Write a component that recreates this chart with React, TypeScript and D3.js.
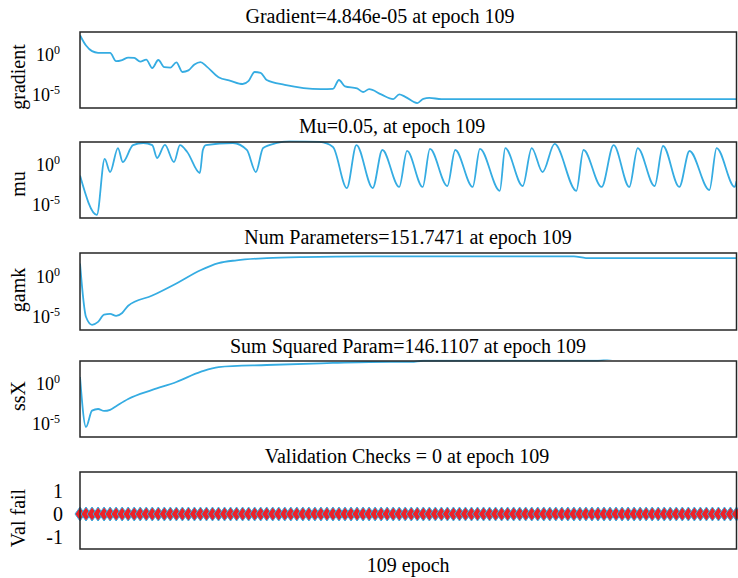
import React from 'react';
import * as d3 from 'd3';

// values (epoch, value)
const gradient: [number, number][] = [
  [0, 316], [1, 16], [2, 3.2], [3, 2], [5, 1.9], [6, 0.18], [7, 0.25], [8, 0.5], [9, 0.45],
  [10, 0.16], [11, 0.28], [12, 0.025], [13, 0.25], [14, 0.032], [15, 0.028], [16, 0.126],
  [17, 0.008], [18, 0.0126], [19, 0.07], [20, 0.14], [21, 0.04], [23, 0.0018], [25, 6.3e-4],
  [27, 2.5e-4], [28, 6.3e-4], [29, 8e-3], [30, 6.3e-3], [31, 8e-4], [34, 2e-4], [40, 5.9e-5],
  [42, 6.3e-5], [43, 8e-4], [44, 1.26e-4], [46, 7e-5], [47, 2.5e-5], [48, 5.6e-5], [50, 1.26e-5],
  [52, 3.3e-6], [53, 1.26e-5], [54, 6.3e-6], [56, 1.05e-6], [57, 3.5e-6], [58, 4.5e-6],
  [60, 3.3e-6], [109, 3.3e-6],
];

const mu: [number, number][] = [
  [0, 0.05], [2.8, 6.3e-7], [4.1, 6.3], [5, 0.14], [6.3, 140], [7.1, 2.5], [8.8, 320],
  [10.5, 600], [12, 320], [12.8, 8], [14.1, 350], [15.6, 2.5], [16.6, 320], [17.8, 45],
  [19.9, 0.105], [20.4, 80], [20.9, 320], [25.4, 600], [27.7, 80], [29.2, 0.14], [30.4, 140],
  [32.7, 600], [34.8, 1000], [39.8, 800], [42, 190], [44.3, 1.4e-3], [45.9, 320], [48.6, 1.4e-3],
  [50.2, 80], [53, 1.9e-3], [54.3, 63], [56.9, 1.9e-3], [58.1, 110], [61, 2.5e-3], [62.3, 80],
  [65.2, 1.9e-3], [66.4, 110], [69.7, 6.3e-4], [70.6, 140], [73.5, 2.5e-3], [75, 140],
  [76.8, 0.14], [78.8, 450], [82.4, 6.3e-4], [83.6, 80], [86.6, 1.9e-3], [88.6, 320],
  [91.2, 1.9e-3], [92.6, 140], [95.4, 2.5e-3], [96.8, 250], [99.5, 1.9e-3], [101.2, 60],
  [104.5, 8e-4], [105.7, 140], [108.7, 1.9e-3], [109, 0.01],
];

const gamk: [number, number][] = [
  [0, 40], [1, 1e-5], [2, 1.1e-6], [3, 2.5e-6], [4, 2e-5], [5, 2.5e-5], [6, 1.4e-5], [7, 3.2e-5],
  [8, 2.5e-4], [12, 4.5e-3], [16, 0.14], [20, 6], [23, 45], [26, 100], [31, 185], [37, 250],
  [48, 300], [82, 300], [84, 190], [109, 185],
];

const ssX: [number, number][] = [
  [0, 8], [1, 4.5e-6], [2, 5e-4], [3, 8e-4], [4, 4.5e-4], [5, 6.3e-4], [6, 1.8e-3], [8, 0.014],
  [12, 0.19], [16, 1.9], [20, 34], [23, 140], [31, 250], [42, 450], [48, 600], [55, 620],
  [57, 850], [86, 900], [89, 2000], [109, 2000],
];

const valFail = [
  0, 0, 0, 0, 0, 0, 0, 0, 0, 0, 0, 0, 0, 0, 0, 0, 0, 0, 0, 0, 0, 0,
  0, 0, 0, 0, 0, 0, 0, 0, 0, 0, 0, 0, 0, 0, 0, 0, 0, 0, 0, 0, 0, 0,
  0, 0, 0, 0, 0, 0, 0, 0, 0, 0, 0, 0, 0, 0, 0, 0, 0, 0, 0, 0, 0, 0,
  0, 0, 0, 0, 0, 0, 0, 0, 0, 0, 0, 0, 0, 0, 0, 0, 0, 0, 0, 0, 0, 0,
  0, 0, 0, 0, 0, 0, 0, 0, 0, 0, 0, 0, 0, 0, 0, 0, 0, 0, 0, 0, 0, 0,
];

const titles = [
  'Gradient=4.846e-05 at epoch 109',
  'Mu=0.05, at epoch 109',
  'Num Parameters=151.7471 at epoch 109',
  'Sum Squared Param=146.1107 at epoch 109',
  'Validation Checks = 0 at epoch 109',
];
const yLabels = ['gradient', 'mu', 'gamk', 'ssX', 'Val fail'];
const logTicks = [1e-5, 1e0];
const valTicks = [1, 0, -1];
const lastEpoch = 109;

const BLUE = '#35ace2';
const RED = '#ec2229';
const FONT = '"Liberation Serif", "Times New Roman", serif';

const left = 80;
const right = 736.5;
const panels = [
  { top: 32, bottom: 108, title: 23, titleX: 380, label: 77 },
  { top: 142, bottom: 218, title: 133, titleX: 392, label: 184 },
  { top: 253, bottom: 330, title: 244, titleX: 408, label: 290 },
  { top: 361, bottom: 437, title: 353, titleX: 408, label: 396 },
  { top: 472, bottom: 549, title: 463, titleX: 407, label: 518 },
];

const x = d3.scaleLinear().domain([0, lastEpoch]).range([left, right]);

const LogPanel = ({ idx, data }: { idx: number; data: [number, number][] }) => {
  const p = panels[idx];
  const y = d3.scaleLog().domain([Math.pow(10, -6.6), Math.pow(10, 2.9)]).range([p.bottom, p.top]);
  const line = d3
    .line<[number, number]>()
    .x((d) => x(d[0]))
    .y((d) => y(d[1]))
    .curve(d3.curveMonotoneX);
  const exp = (v: number) => String(Math.round(Math.log10(v)));
  return (
    <g>
      <clipPath id={`clip${idx}`}>
        <rect x={left} y={p.top - 1.5} width={right - left} height={p.bottom - p.top + 1.5} />
      </clipPath>
      <path d={line(data) || ''} fill="none" stroke={BLUE} strokeWidth={1.8} clipPath={`url(#clip${idx})`} />
      {logTicks.map((t) => (
        <text key={t} x={60} y={y(t) + 6} textAnchor="end" fontSize={18} fontFamily={FONT} fill="#000">
          10
          <tspan fontSize={12} dy={-7}>
            {exp(t)}
          </tspan>
        </text>
      ))}
    </g>
  );
};

const ValPanel = () => {
  const p = panels[4];
  const y = d3.scaleLinear().domain([-1.5, 1.8]).range([p.bottom, p.top]);
  const line = d3
    .line<number>()
    .x((_, i) => x(i))
    .y((d) => y(d));
  return (
    <g>
      <path d={line(valFail) || ''} fill="none" stroke={BLUE} strokeWidth={1.8} />
      {valFail.map((v, i) => (
        <path
          key={i}
          transform={`translate(${x(i)},${y(v)})`}
          d="M-5,0L0,-7L5,0L0,7Z"
          fill={RED}
          stroke={BLUE}
          strokeWidth={1}
        />
      ))}
      {valTicks.map((t) => (
        <text key={t} x={63} y={y(t) + 7} textAnchor="end" fontSize={20} fontFamily={FONT} fill="#000">
          {t}
        </text>
      ))}
    </g>
  );
};

export default function App() {
  const series = [gradient, mu, gamk, ssX];
  return (
    <svg
      width={738}
      height={578}
      style={{ position: 'absolute', left: 0, top: 0, background: '#fff' }}
    >
      <rect width={738} height={578} fill="#fff" />
      {series.map((s, i) => (
        <LogPanel key={i} idx={i} data={s} />
      ))}
      <ValPanel />
      {panels.map((p, i) => (
        <g key={i}>
          <rect
            x={left}
            y={p.top}
            width={right - left}
            height={p.bottom - p.top}
            fill="none"
            stroke="#262626"
            strokeWidth={1.5}
          />
          <text x={p.titleX} y={p.title} textAnchor="middle" fontSize={20} fontFamily={FONT} fill="#000">
            {titles[i]}
          </text>
          <text
            transform={`translate(25,${p.label}) rotate(-90)`}
            textAnchor="middle"
            fontSize={20}
            fontFamily={FONT}
            fill="#000"
          >
            {yLabels[i]}
          </text>
        </g>
      ))}
      <text x={(left + right) / 2} y={572} textAnchor="middle" fontSize={20} fontFamily={FONT} fill="#000">
        {lastEpoch} epoch
      </text>
    </svg>
  );
}
